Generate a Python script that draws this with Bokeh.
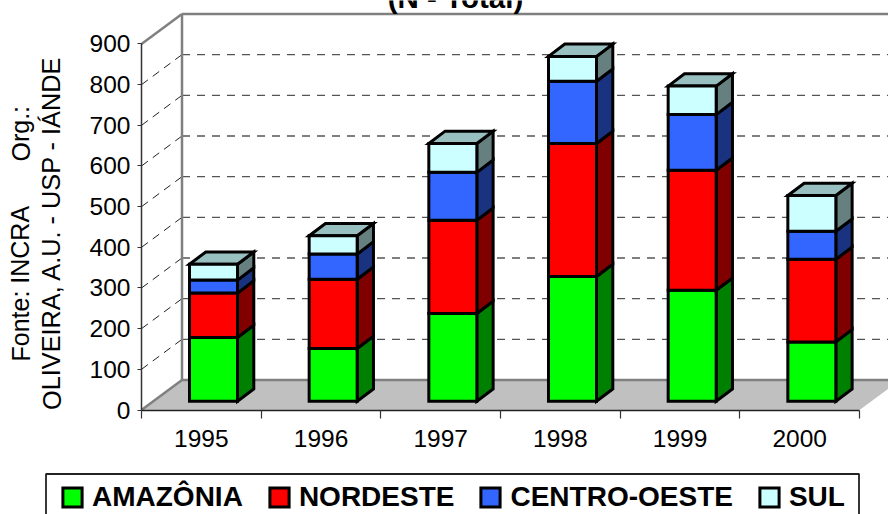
from bokeh.plotting import figure
from bokeh.models import Range1d, Legend, LegendItem, Label, FixedTicker, LinearAxis
from bokeh.embed import file_html
from bokeh.resources import INLINE

YEARS = [1995, 1996, 1997, 1998, 1999, 2000]
AMAZONIA = [157, 130, 216, 307, 273, 146]
NORDESTE = [109, 170, 229, 327, 295, 203]
CENTRO_OESTE = [32, 62, 118, 153, 137, 69]
SUL = [39, 45, 71, 61, 70, 88]
SERIES_NAMES = ["AMAZÔNIA", "NORDESTE", "CENTRO-OESTE", "SUL"]
Y_TICKS = [0, 100, 200, 300, 400, 500, 600, 700, 800, 900]

FRONT = ["#00FF00", "#FF0000", "#3366FF", "#CCFFFF"]
SIDE = ["#008000", "#800000", "#1A3380", "#668080"]
TOP = "#99C0C0"
FONT = "Liberation Sans"

PX_X = 119.67          # pixels per category
PX_Y = 0.4067          # pixels per value unit
WALL_DX = 40.5 / PX_X  # depth of the chart box
WALL_DY = 30 / PX_Y
BAR_DX = 16.3 / PX_X   # depth of a bar
BAR_DY = 12.3 / PX_Y
BAR_LIFT = 8.7 / PX_Y  # bars stand inside the floor
BAR_W = 48 / PX_X
X0 = YEARS[0] - 0.5
X1 = YEARS[-1] + 0.5
ORIGIN_X = 141
ORIGIN_Y = 409.5

p = figure(width=888, height=514, output_backend="svg", toolbar_location=None,
           x_range=Range1d(X0 - ORIGIN_X / PX_X, X0 + (888 - ORIGIN_X) / PX_X),
           y_range=Range1d((ORIGIN_Y - 514) / PX_Y, ORIGIN_Y / PX_Y),
           min_border=0, x_axis_type=None, y_axis_type=None, outline_line_color=None,
           background_fill_color="white", border_fill_color="white")
p.styles = {"position": "absolute", "left": "0px", "top": "0px"}
p.grid.visible = False

# floor
p.patch([X0, X0 + WALL_DX, X1 + WALL_DX, X1], [0, WALL_DY, WALL_DY, 0], fill_color="#C0C0C0", line_color=None)

# back wall grid lines
ymax = Y_TICKS[-1]
grid = [v for v in Y_TICKS[1:-1]]
p.multi_line([[X0 + WALL_DX, X1 + WALL_DX] for _ in grid], [[v + WALL_DY] * 2 for v in grid],
             line_color="#555555", line_width=1.3, line_dash="8 7")
# side wall grid lines
p.multi_line([[X0, X0 + WALL_DX] for _ in grid], [[v, v + WALL_DY] for v in grid],
             line_color="#222222", line_width=1, line_dash="8 6")
# box frame
p.multi_line([[X0 + WALL_DX, X0 + WALL_DX], [X0 + WALL_DX, X1 + WALL_DX], [X0, X0 + WALL_DX], [X0, X0 + WALL_DX],
              [X0 + WALL_DX, X1 + WALL_DX]],
             [[WALL_DY, ymax + WALL_DY], [ymax + WALL_DY] * 2, [ymax, ymax + WALL_DY], [0, WALL_DY],
              [WALL_DY, WALL_DY]],
             line_color="#808080", line_width=2.5)

# stacked bars
quads = []
bottoms = [BAR_LIFT] * len(YEARS)
for k, vals in enumerate([AMAZONIA, NORDESTE, CENTRO_OESTE, SUL]):
    tops = [b + v for b, v in zip(bottoms, vals)]
    lefts = [y - 0.5 + 0.401 for y in YEARS]
    rights = [l + BAR_W for l in lefts]
    p.patches([[r, r + BAR_DX, r + BAR_DX, r] for r in rights],
              [[b, b + BAR_DY, t + BAR_DY, t] for b, t in zip(bottoms, tops)],
              fill_color=SIDE[k], line_color="black", line_width=3, line_join="miter")
    if k == 3:
        p.patches([[l, l + BAR_DX, r + BAR_DX, r] for l, r in zip(lefts, rights)],
                  [[t, t + BAR_DY, t + BAR_DY, t] for t in tops],
                  fill_color=TOP, line_color="black", line_width=3, line_join="miter")
    q = p.quad(left=lefts, right=rights, bottom=bottoms, top=tops, fill_color=FRONT[k],
               line_color="black", line_width=3, line_join="miter")
    quads.append(q)
    bottoms = tops

# axes
yax = LinearAxis(ticker=FixedTicker(ticks=Y_TICKS), bounds=(0, ymax), fixed_location=X0)
yax.major_label_text_font = FONT
yax.major_label_text_font_size = "24.5px"
yax.major_label_text_color = "black"
yax.major_label_standoff = 7
yax.major_tick_in = 0
yax.major_tick_out = 4
yax.minor_tick_line_color = None
yax.axis_line_color = "#333333"
yax.axis_line_width = 1.5
yax.major_tick_line_color = "#333333"
yax.major_tick_line_width = 1.2
p.add_layout(yax, "left")

xax = LinearAxis(ticker=FixedTicker(ticks=YEARS, minor_ticks=[y - 0.5 for y in YEARS] + [X1]), bounds=(X0, X1),
                 fixed_location=0)
xax.formatter.use_scientific = False
xax.major_label_text_font = FONT
xax.major_label_text_font_size = "24.5px"
xax.major_label_text_color = "black"
xax.major_label_standoff = 12
xax.major_tick_line_color = None
xax.minor_tick_in = 0
xax.minor_tick_out = 8
xax.minor_tick_line_color = "#333333"
xax.minor_tick_line_width = 1.2
xax.axis_line_color = "#222222"
xax.axis_line_width = 1.5
p.add_layout(xax, "below")

# texts around the chart
for txt, px, py, ang, size, bold in [
    ("(N - Total)", 455, -3.5, 0, "29.5px", True),
    ("Fonte: INCRA", 20, 361, 1.5708, "25px", False),
    ("Org.:", 20, 161, 1.5708, "25px", False),
    ("OLIVEIRA, A.U. - USP - IÁNDE", 51, 409.5, 1.5708, "25.3px", False),
]:
    p.add_layout(Label(x=px, y=514 - py, x_units="screen", y_units="screen", text=txt, angle=ang,
                       text_font=FONT, text_font_size=size, text_color="black",
                       text_font_style="bold" if bold else "normal",
                       text_align="center" if ang == 0 else "left", text_baseline="alphabetic"))

# legend box
def data_x(px):
    return X0 + (px - ORIGIN_X) / PX_X
def data_y(py):
    return (ORIGIN_Y - py) / PX_Y
p.quad(left=[data_x(45.5)], right=[data_x(858.5)], top=[data_y(473.5)], bottom=[data_y(520)],
       fill_color="white", line_color="#222222", line_width=1.8)

legend = Legend(items=[LegendItem(label=n, renderers=[q]) for n, q in zip(SERIES_NAMES, quads)],
                orientation="horizontal", location=(60, 1),
                glyph_width=24, glyph_height=24, label_standoff=8, spacing=24,
                padding=6, margin=0, label_text_font=FONT, label_text_font_size="28px",
                label_text_font_style="bold", label_text_color="black", label_height=19,
                border_line_color=None, background_fill_alpha=0)
p.add_layout(legend, "center")

open("out.html", "w").write(file_html(p, INLINE))
